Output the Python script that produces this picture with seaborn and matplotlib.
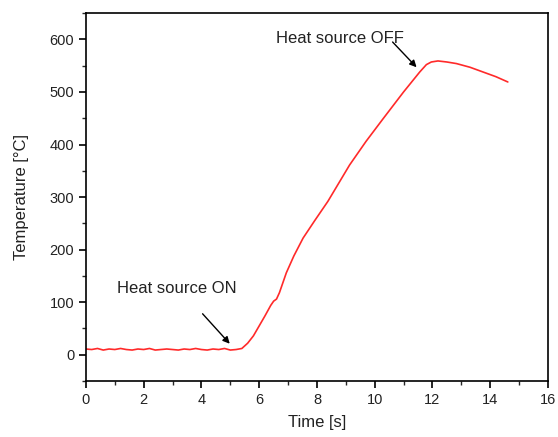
import matplotlib
matplotlib.use("Agg")
import matplotlib.pyplot as plt
from matplotlib.ticker import MultipleLocator
import seaborn as sns
import pandas as pd

# --- data ---
time_s = [0.0, 0.2, 0.4, 0.6, 0.8, 1.0, 1.2, 1.4, 1.6, 1.8, 2.0, 2.2, 2.4, 2.6,
          2.8, 3.0, 3.2, 3.4, 3.6, 3.8, 4.0, 4.2, 4.4, 4.6, 4.8, 5.0, 5.2, 5.4,
          5.6, 5.8, 6.0, 6.2, 6.4, 6.5, 6.6, 6.7, 6.94, 7.2, 7.52, 7.92, 8.38,
          9.13, 9.7, 10.29, 11.0, 11.56, 11.79, 11.96, 12.19, 12.5, 12.83,
          13.3, 13.75, 14.2, 14.61]
temp_c = [11, 10, 12, 9, 11, 10, 12, 10, 9, 11, 10, 12, 9, 10, 11, 10, 9, 11,
          10, 12, 10, 9, 11, 10, 12, 9, 10, 12,
          22, 36, 55, 74, 94, 102, 106, 118, 156, 188, 222, 255, 292,
          361, 406, 449, 500, 538, 552, 557, 559, 557, 554,
          547, 538, 529, 519]

x_ticks = [0, 2, 4, 6, 8, 10, 12, 14, 16]
y_ticks = [0, 100, 200, 300, 400, 500, 600]

ann_on_text = "Heat source ON"
ann_off_text = "Heat source OFF"

sns.set_style("white")
plt.rcParams["font.family"] = ["Liberation Sans", "DejaVu Sans"]

df = pd.DataFrame({"Time [s]": time_s, "Temperature [°C]": temp_c})

fig = plt.figure(figsize=(5.58, 4.37), dpi=100)
ax = fig.add_axes([0.154, 0.128, 0.828, 0.842])

sns.lineplot(data=df, x="Time [s]", y="Temperature [°C]", ax=ax, sort=False,
             color="#ff2a2a", linewidth=1.2)

ax.set_xlim(0, 16)
ax.set_ylim(-50, 650)
ax.set_xticks(x_ticks)
ax.set_yticks(y_ticks)
ax.xaxis.set_minor_locator(MultipleLocator(1))
ax.yaxis.set_minor_locator(MultipleLocator(50))
ax.tick_params(which="major", direction="out", length=5, width=1.2,
               labelsize=10.5, color="black", labelcolor="#222222",
               bottom=True, left=True)
ax.tick_params(which="minor", direction="out", length=3, width=1.0,
               bottom=True, left=True)
for s in ax.spines.values():
    s.set_visible(True)
    s.set_color("black")
    s.set_linewidth(1.2)

ax.set_xlabel("Time [s]", fontsize=12, color="#222222", labelpad=6)
ax.set_ylabel("Temperature [°C]", fontsize=12, color="#222222", labelpad=15)

ax.text(1.07, 127, ann_on_text, fontsize=12, color="#222222",
        va="center", ha="left")
ax.annotate("", xy=(4.98, 21), xytext=(4.04, 78),
            arrowprops=dict(arrowstyle="-|>", color="black", lw=1.0,
                            shrinkA=0, shrinkB=0, mutation_scale=10))
ax.text(6.57, 601, ann_off_text, fontsize=12, color="#222222",
        va="center", ha="left")
ax.annotate("", xy=(11.45, 547), xytext=(10.62, 595),
            arrowprops=dict(arrowstyle="-|>", color="black", lw=1.0,
                            shrinkA=0, shrinkB=0, mutation_scale=10))

fig.savefig("out.png", dpi=100)
